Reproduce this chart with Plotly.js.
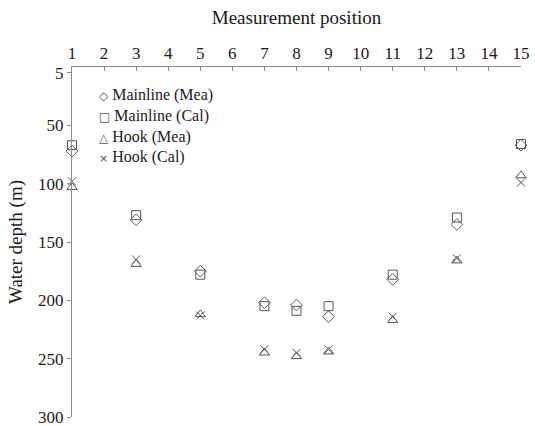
<!DOCTYPE html>
<html>
<head>
<meta charset="utf-8">
<script src="https://cdn.plot.ly/plotly-3.0.1.min.js"></script>
<style>
html,body{margin:0;padding:0;background:#ffffff;}
#chart{width:535px;height:426px;}
</style>
</head>
<body>
<div id="chart"></div>
<script>
// Data
const positions = [1, 3, 5, 7, 8, 9, 11, 13, 15];
const mainlineMea = [72, 131, 175, 202, 204, 214, 182, 135, 67];
const mainlineCal = [67, 127, 178, 205, 209, 205, 178, 129, 66];
const hookMea = [103, 169, 212, 245, 248, 244, 217, 166, 93];
const hookCal = [98, 165, 213, 242, 245, 242, 214, 164, 99];

const seriesNames = ['Mainline (Mea)', 'Mainline (Cal)', 'Hook (Mea)', 'Hook (Cal)'];
const legendGlyphs = ['\u25C7', '\u25A1', '\u25B3', '\u00D7'];
const xTickVals = [1, 2, 3, 4, 5, 6, 7, 8, 9, 10, 11, 12, 13, 14, 15];
const yTickVals = [5, 50, 100, 150, 200, 250, 300];

const xTitle = 'Measurement position';
const yTitle = 'Water depth (m)';

const markerColor = '#555555';
const axisColor = '#8c8c8c';
const textColor = '#1a1a1a';
const serif = 'Times New Roman, Liberation Serif, DejaVu Serif, serif';

const seriesValues = [mainlineMea, mainlineCal, hookMea, hookCal];
const symbols = ['diamond-open', 'square-open', 'triangle-up-open', 'x-thin-open'];
const sizes = [9, 9, 9, 8];

const traces = seriesValues.map((vals, i) => ({
  type: 'scatter',
  mode: 'markers',
  name: seriesNames[i],
  x: positions,
  y: vals,
  cliponaxis: false,
  marker: {
    symbol: symbols[i],
    size: sizes[i],
    color: markerColor,
    line: {width: 1, color: markerColor}
  }
}));

// Legend drawn as one multi-line text block (glyph + label per row), as in the reference
const legendText = seriesNames.map((name, i) =>
  '<span style="font-family:DejaVu Sans;font-size:' + (i === 3 ? 11 : 12) + 'px;fill:' + markerColor + '">' +
  legendGlyphs[i] + '</span> ' + name
).join('<br>');

const annotations = [{
  xref: 'paper', yref: 'paper', x: 0.058, y: 0.948,
  xanchor: 'left', yanchor: 'top', align: 'left', showarrow: false,
  borderpad: 0,
  text: legendText,
  font: {family: serif, size: 16, color: textColor}
}];

const layout = {
  width: 535,
  height: 426,
  margin: {l: 72, r: 14, t: 67, b: 9, pad: 0},
  paper_bgcolor: '#ffffff',
  plot_bgcolor: '#ffffff',
  showlegend: false,
  font: {family: serif, size: 17, color: textColor},
  xaxis: {
    side: 'top',
    range: [1, 15],
    tickmode: 'array',
    tickvals: xTickVals,
    ticks: 'inside',
    ticklen: 4,
    tickwidth: 1,
    tickcolor: axisColor,
    showline: true,
    linecolor: axisColor,
    linewidth: 1,
    showgrid: false,
    zeroline: false,
    tickfont: {family: serif, size: 17, color: textColor},
    title: {text: xTitle, font: {family: serif, size: 19, color: textColor}, standoff: 14}
  },
  yaxis: {
    range: [300, 0],
    tickmode: 'array',
    tickvals: yTickVals,
    ticks: 'outside',
    ticklen: 4,
    tickwidth: 1,
    tickcolor: axisColor,
    showline: true,
    linecolor: axisColor,
    linewidth: 1,
    showgrid: false,
    zeroline: false,
    ticklabeloverflow: 'allow',
    tickfont: {family: serif, size: 17, color: textColor},
    title: {text: yTitle, font: {family: serif, size: 19, color: textColor}, standoff: 10}
  },
  annotations: annotations
};

Plotly.newPlot('chart', traces, layout, {displayModeBar: false, staticPlot: true});
</script>
</body>
</html>
